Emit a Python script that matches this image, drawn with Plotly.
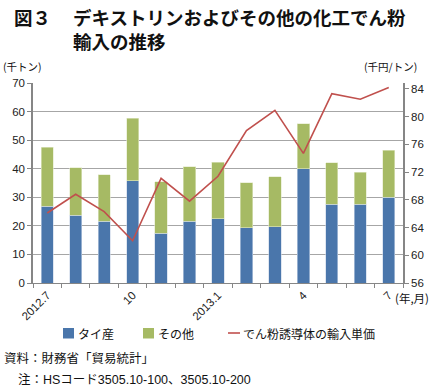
import plotly.graph_objects as go

months = ["2012.7", "8", "9", "10", "11", "12", "2013.1", "2", "3", "4", "5", "6", "7"]
tick_text = ["2012.7", "", "", "10", "", "", "2013.1", "", "", "4", "", "", "7"]
thai = [26.9, 23.8, 21.7, 35.8, 17.4, 21.7, 22.5, 19.3, 19.7, 40.0, 27.6, 27.5, 30.1]
total = [47.6, 40.3, 37.9, 57.7, 35.4, 40.7, 42.2, 35.1, 37.2, 55.8, 42.1, 38.7, 46.4]
other = [round(t - a, 1) for t, a in zip(total, thai)]
unit_price = [66.1, 68.8, 66.3, 62.1, 71.1, 67.8, 71.4, 78.0, 80.9, 74.7, 83.3, 82.5, 84.2]
left_ticks = [0, 10, 20, 30, 40, 50, 60, 70]
right_ticks = [56, 60, 64, 68, 72, 76, 80, 84]

FONT = "Noto Sans CJK JP"
MIX = "Liberation Sans, Noto Sans CJK JP"
W, H = 438, 390
L, R, T, B = 33, 35, 83, 107
PW, PH = W - L - R, H - T - B

BLUE, GREEN, RED = "#4A76AB", "#A6BA64", "#C0504D"

def px(x):
    return (x - L) / PW

def py(y):
    return (H - B - y) / PH

fig = go.Figure()
fig.add_trace(go.Bar(x=months, y=thai, name="タイ産", marker=dict(color=BLUE, line=dict(color="#C9D6E8", width=0.6))))
fig.add_trace(go.Bar(x=months, y=other, name="その他", marker=dict(color=GREEN, line=dict(color="#E2EAC9", width=0.6))))
fig.add_trace(go.Scatter(x=months, y=unit_price, name="でん粉誘導体の輸入単価", mode="lines",
                         line=dict(color=RED, width=1.6), yaxis="y2"))

fig.update_layout(
    width=W, height=H,
    margin=dict(l=L, r=R, t=T, b=B, pad=0, autoexpand=False),
    paper_bgcolor="white", plot_bgcolor="white",
    barmode="stack", bargap=0.57,
    font=dict(family=MIX, size=11, color="#222222"),
    showlegend=False,
    xaxis=dict(type="category", tickmode="array", tickvals=months, ticktext=tick_text,
               tickangle=-45, ticks="outside", tickson="boundaries", ticklen=4,
               tickcolor="#868686", showline=True, linecolor="#868686", linewidth=1,
               showgrid=False, tickfont=dict(size=11.5, family=MIX), automargin=False),
    yaxis=dict(range=[0, 70], tickvals=left_ticks, ticks="outside", ticklen=4,
               tickcolor="#868686", showline=True, linecolor="#868686", linewidth=1.5,
               showgrid=True, gridcolor="#A6A6A6", gridwidth=1.2, zeroline=False,
               tickfont=dict(size=11.5, family=MIX), automargin=False),
    yaxis2=dict(range=[56, 84.85], tickvals=right_ticks, overlaying="y", side="right",
                ticks="outside", ticklen=4, tickcolor="#868686", showline=True,
                linecolor="#868686", linewidth=1.5, showgrid=False, zeroline=False,
                tickfont=dict(size=11.5, family=MIX), automargin=False),
)

ann = [
    dict(x=px(12), y=py(17), text="<b>図３</b>", font=dict(size=18.5, family=FONT), xanchor="left", yanchor="middle"),
    dict(x=px(71), y=py(2), text="<b>デキストリンおよびその他の化工でん粉<br>輸入の推移</b>",
         font=dict(size=18.5, family=FONT), xanchor="left", yanchor="top", align="left"),
    dict(x=px(1), y=py(66), text="(千トン)", font=dict(size=10.5, family=FONT), xanchor="left", yanchor="middle"),
    dict(x=px(362), y=py(66), text="(千円/トン)", font=dict(size=10.5, family=FONT), xanchor="left", yanchor="middle"),
    dict(x=px(393), y=py(298), text="(年,月)", font=dict(size=11.5, family=FONT), xanchor="left", yanchor="middle"),
    dict(x=px(76), y=py(333), text="タイ産", font=dict(size=12, family=FONT), xanchor="left", yanchor="middle"),
    dict(x=px(156), y=py(333), text="その他", font=dict(size=12, family=FONT), xanchor="left", yanchor="middle"),
    dict(x=px(241), y=py(333), text="でん粉誘導体の輸入単価", font=dict(size=12, family=FONT), xanchor="left", yanchor="middle"),
    dict(x=px(2), y=py(357), text="資料：財務省「貿易統計」", font=dict(size=12.5, family=FONT), xanchor="left", yanchor="middle"),
    dict(x=px(16), y=py(380), text="注：HSコード3505.10-100、3505.10-200", font=dict(size=12.5, family=MIX),
         xanchor="left", yanchor="middle"),
]
for a in ann:
    a.update(xref="paper", yref="paper", showarrow=False)
    a["font"].update(color="#111111")
    fig.add_annotation(**a)

# legend symbols
fig.add_shape(type="rect", xref="paper", yref="paper", x0=px(63), x1=px(74), y0=py(338.5), y1=py(328),
              fillcolor=BLUE, line=dict(width=0))
fig.add_shape(type="rect", xref="paper", yref="paper", x0=px(143), x1=px(154), y0=py(338.5), y1=py(328),
              fillcolor=GREEN, line=dict(width=0))
fig.add_shape(type="line", xref="paper", yref="paper", x0=px(228), x1=px(240), y0=py(333), y1=py(333),
              line=dict(color=RED, width=1.6))

fig.write_html("out.html", config={"displayModeBar": False},
               post_script="document.body.style.margin='0';document.body.style.overflow='hidden';")
